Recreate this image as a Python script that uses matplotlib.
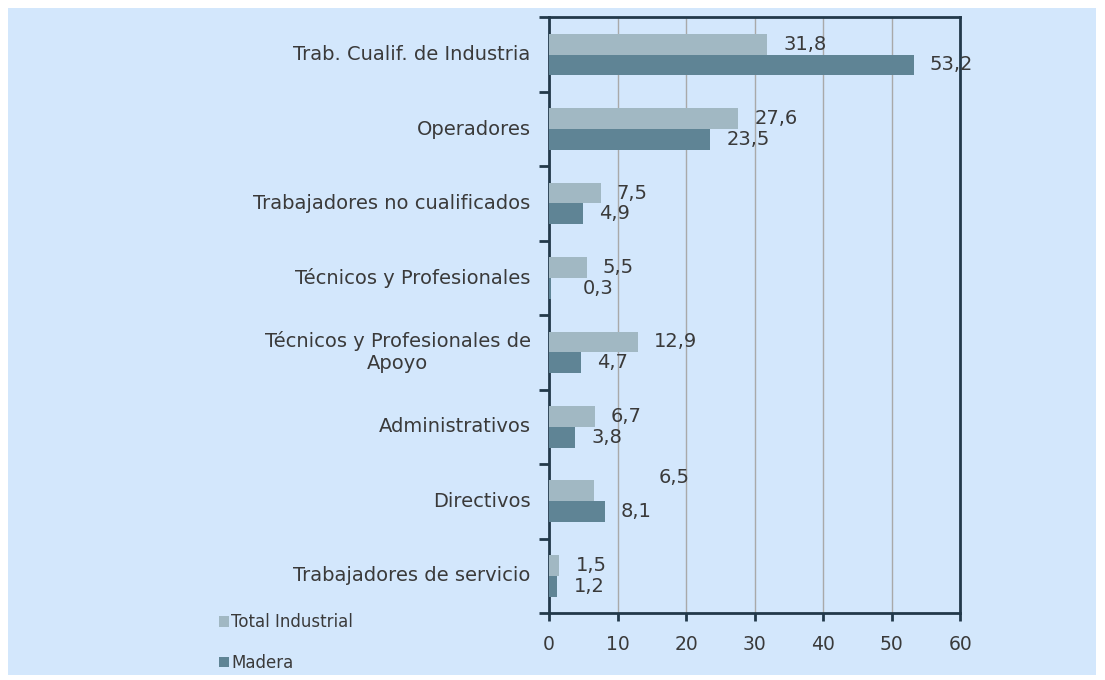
import matplotlib.pyplot as plt
from matplotlib.patches import Patch, Rectangle
import numpy as np

plt.rcParams['font.family'] = ['DejaVu Sans']

categories = ['Trab. Cualif. de Industria', 'Operadores', 'Trabajadores no cualificados',
              'Técnicos y Profesionales', 'Técnicos y Profesionales de\nApoyo',
              'Administrativos', 'Directivos', 'Trabajadores de servicio']
total_industrial = [31.8, 27.6, 7.5, 5.5, 12.9, 6.7, 6.5, 1.5]
madera = [53.2, 23.5, 4.9, 0.3, 4.7, 3.8, 8.1, 1.2]
series_names = ['Total Industrial', 'Madera']
x_ticks = [0, 10, 20, 30, 40, 50, 60]

bg = '#D3E7FC'
c_total = '#A1B8C3'
c_madera = '#5F8495'
frame = '#22394A'
txt = '#3A3A3A'

fig = plt.figure(figsize=(11.05, 6.8), dpi=100, facecolor='white')
fig.patches.append(Rectangle((0.007, 0.007), 0.985, 0.981, transform=fig.transFigure,
                             facecolor=bg, edgecolor='none', zorder=-1))
ax = fig.add_axes([0.497, 0.0985, 0.372, 0.876])
ax.set_facecolor(bg)

n = len(categories)
y = np.arange(n)
h = 0.28
ax.barh(y - h / 2, total_industrial, height=h, color=c_total, zorder=3)
ax.barh(y + h / 2, madera, height=h, color=c_madera, zorder=3)

# value labels, comma decimal like the source
for i in range(n):
    dx, dy = 16, 0
    if categories[i] == 'Directivos':
        dx, dy = 65, 13
    ax.annotate(f'{total_industrial[i]:.1f}'.replace('.', ','), (total_industrial[i], y[i] - h / 2),
                xytext=(dx, dy), textcoords='offset pixels', va='center', ha='left',
                fontsize=14, color=txt, zorder=4)
    dx2 = 32 if madera[i] < 1 else 16
    ax.annotate(f'{madera[i]:.1f}'.replace('.', ','), (madera[i], y[i] + h / 2),
                xytext=(dx2, 0), textcoords='offset pixels', va='center', ha='left',
                fontsize=14, color=txt, zorder=4)

ax.set_xlim(0, 60)
ax.set_ylim(n - 0.5, -0.5)
ax.set_xticks(x_ticks)
ax.set_xticklabels([str(t) for t in x_ticks])
ax.set_yticks(np.arange(-0.5, n + 0.5, 1))
ax.set_yticklabels([])
ax.tick_params(axis='y', direction='out', length=7, width=2, color=frame)
ax.tick_params(axis='x', direction='out', length=6, width=2, color=frame,
               labelsize=13.5, labelcolor=txt, pad=10)
for i, c in enumerate(categories):
    ax.text(-0.045, i, c, transform=ax.get_yaxis_transform(), ha='right', va='center',
            multialignment='center', fontsize=14, color=txt)

ax.grid(axis='x', color='#A9A9A9', linewidth=1, zorder=0)
for s in ax.spines.values():
    s.set_color(frame)
    s.set_linewidth(2)

handles = [Patch(facecolor=c_total), Patch(facecolor=c_madera)]
fig.legend(handles, series_names, loc='lower left', bbox_to_anchor=(0.185, -0.01), frameon=False,
           fontsize=12, labelcolor=txt, handlelength=0.6, handleheight=0.6, handletextpad=0.1,
           labelspacing=1.35)

plt.savefig('out.png', dpi=100, facecolor='white')
